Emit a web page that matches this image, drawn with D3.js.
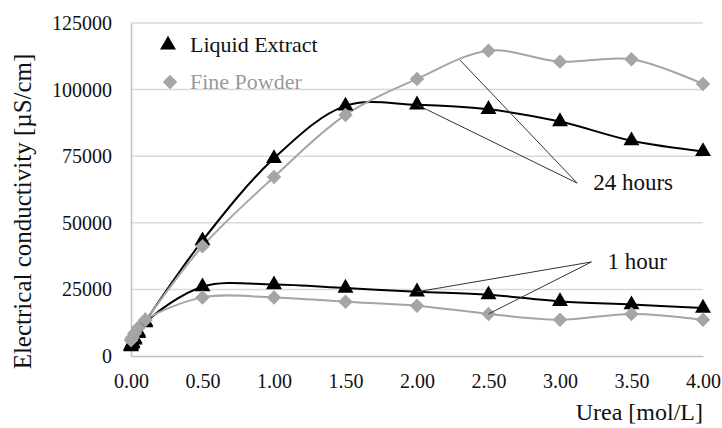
<!DOCTYPE html>
<html>
<head>
<meta charset="utf-8">
<script src="https://cdn.jsdelivr.net/npm/d3@7"></script>
<style>
  html, body { margin: 0; padding: 0; background: #fff; }
  svg { display: block; }
</style>
</head>
<body>
<svg id="chart" width="722" height="428"></svg>
<script>
// Urea concentration [mol/L]
const urea = [0, 0.01, 0.025, 0.05, 0.1, 0.5, 1.0, 1.5, 2.0, 2.5, 3.0, 3.5, 4.0];

// Electrical conductivity [µS/cm]
const liquid24h = [4000, 5000, 6500, 9000, 13000, 43300, 74200, 93900, 94300, 92600, 88000, 80800, 76800];
const liquid1h  = [3500, 4500, 6000, 8500, 12500, 26000, 26800, 25500, 24100, 23000, 20500, 19300, 18000];
const powder24h = [6000, 7000, 8500, 10500, 13500, 41200, 67200, 90500, 104000, 114600, 110500, 111400, 102100];
const powder1h  = [6000, 7000, 8500, 10500, 13500, 22000, 22000, 20400, 18900, 15800, 13600, 15800, 13600];

const xTicks = [0, 0.5, 1.0, 1.5, 2.0, 2.5, 3.0, 3.5, 4.0];
const yTicks = [0, 25000, 50000, 75000, 100000, 125000];

const legendNames = ["Liquid Extract", "Fine Powder"];

// Callout labels: [label, label anchor (x, y), targets on the curves]
const callouts = [
  { text: "24 hours", anchor: [3.12, 64900], targets: [[2.3, 111100], [2.0, 94300]] },
  { text: "1 hour",   anchor: [3.22, 35300], targets: [[2.0, 24100], [2.5, 15800]] }
];

const FONT = "'Liberation Serif', 'Times New Roman', 'DejaVu Serif', serif";

const svg = d3.select("#chart");
const margin = { left: 131, right: 19, top: 23, bottom: 72 };
const W = 722, H = 428;

const x = d3.scaleLinear().domain([0, 4]).range([margin.left, W - margin.right]);
const y = d3.scaleLinear().domain([0, 125000]).range([H - margin.bottom, margin.top]);

const black = "#000000";
const grey = "#a5a5a5";

// Horizontal gridlines
svg.append("g")
  .selectAll("line")
  .data(yTicks.filter(d => d > 0))
  .join("line")
  .attr("x1", x(0)).attr("x2", x(4))
  .attr("y1", d => y(d)).attr("y2", d => y(d))
  .attr("stroke", "#d9d9d9").attr("stroke-width", 1.5);

// Axes
const yAxis = d3.axisLeft(y).tickValues(yTicks).tickSize(0).tickPadding(19).tickFormat(d3.format("d"));
const gy = svg.append("g").attr("transform", `translate(${x(0)},0)`).call(yAxis)
  .attr("font-family", FONT).attr("font-size", 20);
gy.select(".domain").attr("stroke", "#bfbfbf").attr("stroke-width", 1.5);
gy.selectAll("text").attr("fill", "#111");

const xAxis = d3.axisBottom(x).tickValues(xTicks).tickSize(0).tickPadding(18).tickFormat(d3.format(".2f"));
const gx = svg.append("g").attr("transform", `translate(0,${y(0)})`).call(xAxis)
  .attr("font-family", FONT).attr("font-size", 20);
gx.select(".domain").attr("stroke", "#bfbfbf").attr("stroke-width", 1.5);
gx.selectAll("text").attr("fill", "#111");

// Axis titles
svg.append("text")
  .attr("transform", `translate(31,${(y(0) + y(125000)) / 2 + 22}) rotate(-90)`)
  .attr("text-anchor", "middle")
  .attr("font-family", FONT)
  .attr("font-size", 25).attr("fill", "#111")
  .text("Electrical conductivity [µS/cm]");

svg.append("text")
  .attr("x", x(4)).attr("y", 420)
  .attr("text-anchor", "end")
  .attr("font-family", FONT)
  .attr("font-size", 24).attr("fill", "#111")
  .text("Urea [mol/L]");

// Series
const line = d3.line()
  .x((d, i) => x(urea[i]))
  .y(d => y(d))
  .curve(d3.curveCatmullRom.alpha(0.5));

const series = [
  { values: liquid1h,  color: black, marker: "triangle" },
  { values: liquid24h, color: black, marker: "triangle" },
  { values: powder1h,  color: grey,  marker: "diamond" },
  { values: powder24h, color: grey,  marker: "diamond" }
];

const triangle = d3.symbol().type(d3.symbolTriangle).size(110);
const diamond = d3.symbol().type(d3.symbolSquare).size(105);

series.forEach(s => {
  svg.append("path")
    .attr("d", line(s.values))
    .attr("fill", "none")
    .attr("stroke", s.color)
    .attr("stroke-width", 2);
});

series.forEach(s => {
  svg.append("g")
    .selectAll("path")
    .data(s.values)
    .join("path")
    .attr("transform", (d, i) => s.marker === "diamond"
      ? `translate(${x(urea[i])},${y(d)}) rotate(45)`
      : `translate(${x(urea[i])},${y(d)})`)
    .attr("d", s.marker === "diamond" ? diamond() : triangle())
    .attr("fill", s.color);
});

// Callout leader lines and labels
callouts.forEach(c => {
  const g = svg.append("g");
  c.targets.forEach(t => {
    g.append("line")
      .attr("x1", x(c.anchor[0])).attr("y1", y(c.anchor[1]))
      .attr("x2", x(t[0])).attr("y2", y(t[1]))
      .attr("stroke", "#333").attr("stroke-width", 1);
  });
  g.append("text")
    .attr("x", x(c.anchor[0]) + 16)
    .attr("y", y(c.anchor[1]) + 7)
    .attr("font-family", FONT)
    .attr("font-size", 23).attr("fill", "#111")
    .text(c.text);
});

// Legend
const legend = svg.append("g");
legend.append("path")
  .attr("transform", "translate(168,45)")
  .attr("d", triangle()).attr("fill", black);
legend.append("text")
  .attr("x", 190).attr("y", 52)
  .attr("font-family", FONT)
  .attr("font-size", 22).attr("fill", "#111")
  .text(legendNames[0]);
legend.append("path")
  .attr("transform", "translate(170,82) rotate(45)")
  .attr("d", diamond()).attr("fill", grey);
legend.append("text")
  .attr("x", 190).attr("y", 89)
  .attr("font-family", FONT)
  .attr("font-size", 22).attr("fill", "#9a9a9a")
  .text(legendNames[1]);
</script>
</body>
</html>
